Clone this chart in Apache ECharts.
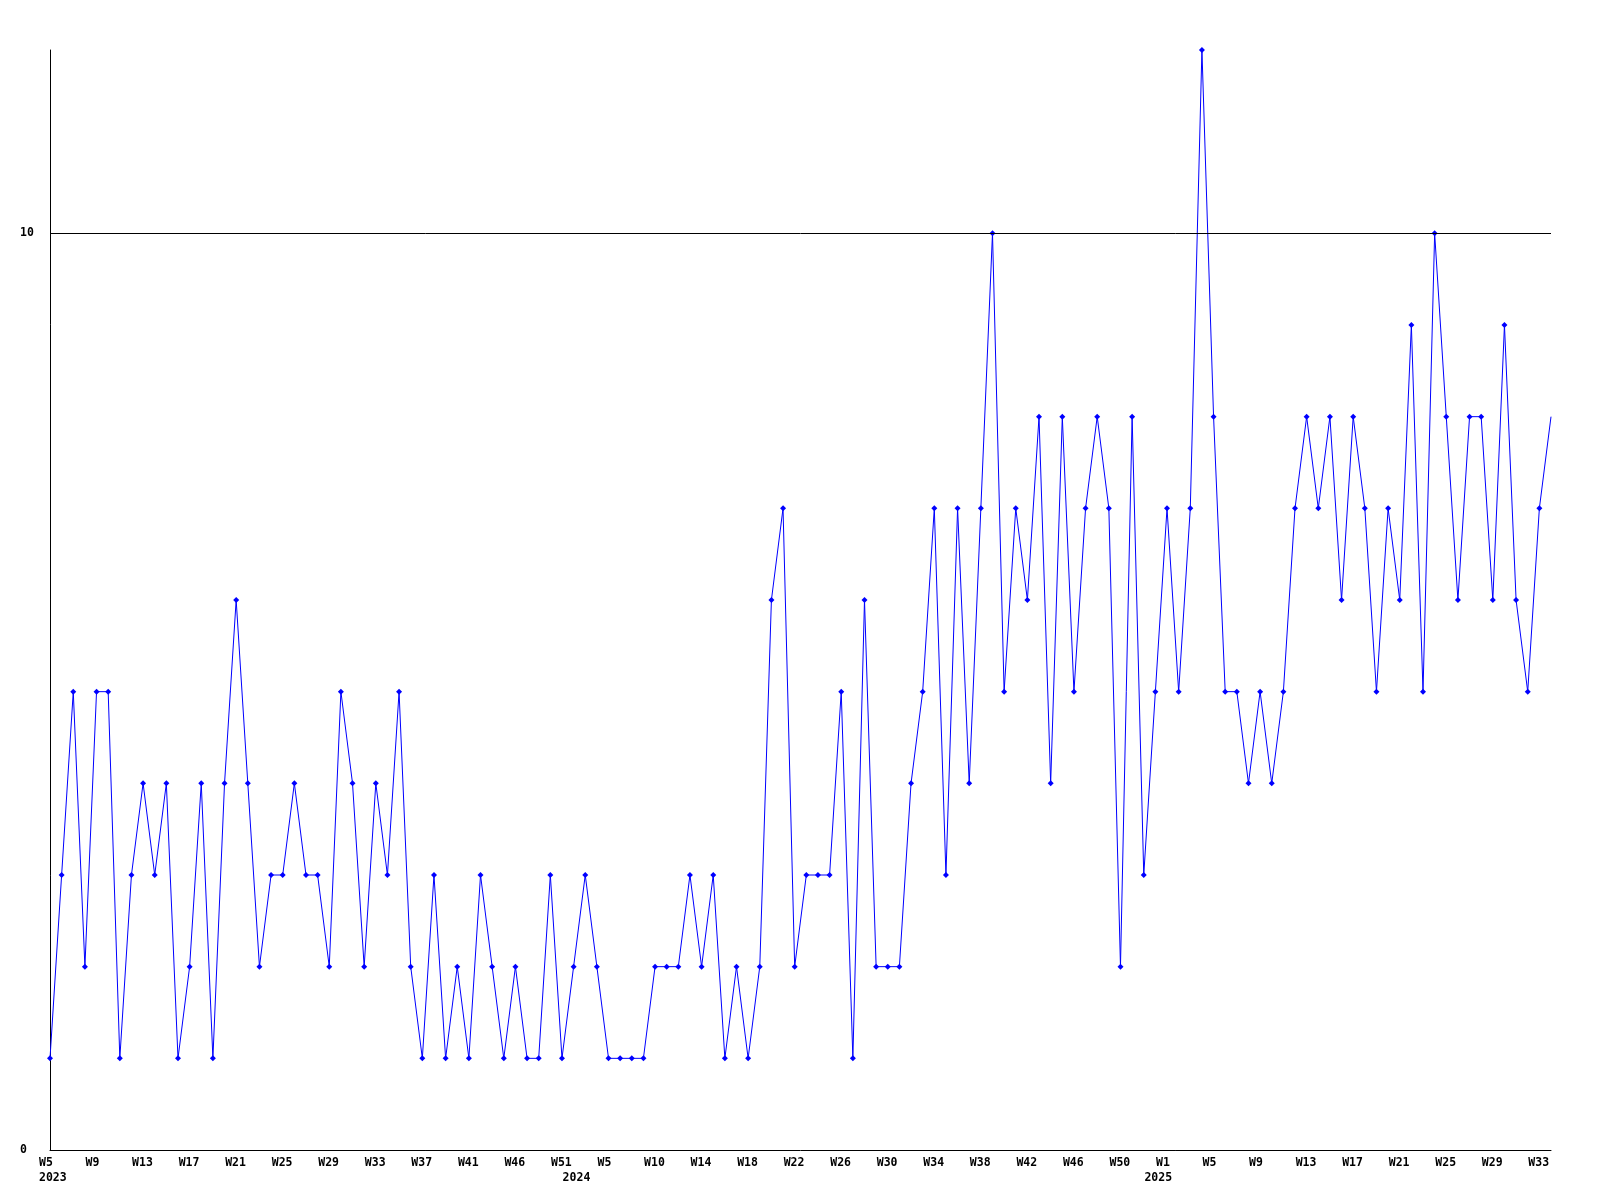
<!DOCTYPE html>
<html>
<head>
<meta charset="utf-8">
<style>
  html, body { margin: 0; padding: 0; background: #ffffff; }
  #chart { width: 1600px; height: 1200px; }
</style>
<script src="https://cdn.jsdelivr.net/npm/echarts@6/dist/echarts.min.js"></script>
</head>
<body>
<div id="chart"></div>
<script>
// Week labels for each plotted point (weeks without data are absent)
const weeks2023 = ['W5','W6','W7','W8','W9','W10','W11','W12','W13','W14','W15','W16','W17','W18','W19','W20','W21','W22','W23','W24','W25','W26','W27','W28','W29','W30','W31','W32','W33','W34','W35','W36','W37','W38','W39','W40','W41','W42','W43','W45','W46','W47','W48','W50','W51'];
const weeks2024 = ['W1','W2','W4','W5','W6','W7','W8','W10','W11','W12','W13','W14','W15','W16','W17','W18','W19','W20','W21','W22','W23','W24','W25','W26','W27','W28','W29','W30','W31','W32','W33','W34','W35','W36','W37','W38','W39','W40','W41','W42','W43','W44','W45','W46','W47','W48','W49','W50','W51','W52'];
const weeks2025 = ['W0','W1','W2','W3','W4','W5','W6','W7','W8','W9','W10','W11','W12','W13','W14','W15','W16','W17','W18','W19','W20','W21','W22','W23','W24','W25','W26','W27','W28','W29','W30','W31','W32','W33','W34'];
const years = ['2023', '2024', '2025'];

// Weekly counts
const counts = [
  1,3,5,2,5,5,1,3,4,3,
  4,1,2,4,1,4,6,4,2,3,
  3,4,3,3,2,5,4,2,4,3,
  5,2,1,3,1,2,1,3,2,1,
  2,1,1,3,1,2,3,2,1,1,
  1,1,2,2,2,3,2,3,1,2,
  1,2,6,7,2,3,3,3,5,1,
  6,2,2,2,4,5,7,3,7,4,
  7,10,5,7,6,8,4,8,5,7,
  8,7,2,8,3,5,7,5,7,12,
  8,5,5,4,5,4,5,7,8,7,
  8,6,8,7,5,7,6,9,5,10,
  8,6,8,8,6,9,6,5,7,8
];

const referenceLevel = 10;
const yTickLabels = [0, 10];

// Build categories and the index where each year starts
const categories = [].concat(weeks2023, weeks2024, weeks2025);
const yearStart = {};
yearStart[0] = years[0];
yearStart[weeks2023.length] = years[1];
yearStart[weeks2023.length + weeks2024.length] = years[2];

const FONT = '"DejaVu Sans Mono", "Liberation Mono", monospace';

const chart = echarts.init(document.getElementById('chart'), null, { renderer: 'canvas' });
chart.setOption({
  animation: false,
  backgroundColor: '#ffffff',
  grid: { left: 50, right: 49, top: 50, bottom: 50, containLabel: false },
  xAxis: {
    type: 'category',
    data: categories,
    boundaryGap: false,
    axisLine: { show: true, lineStyle: { color: '#000', width: 1 } },
    axisTick: { show: false },
    splitLine: { show: false },
    axisLabel: {
      interval: function (idx) { return idx % 4 === 0 || yearStart[idx] !== undefined; },
      margin: 6,
      formatter: function (value, idx) {
        const w = (idx % 4 === 0) ? '{w|' + value + '}' : '{w| }';
        const y = yearStart[idx] !== undefined ? '\n{w|' + yearStart[idx] + '}' : '';
        return w + y;
      },
      rich: {
        w: {
          width: 22,
          align: 'left',
          fontFamily: FONT,
          fontWeight: 'bold',
          fontSize: 11.5,
          lineHeight: 15,
          color: '#000'
        }
      }
    }
  },
  yAxis: {
    type: 'value',
    min: 0,
    max: 12,
    interval: 10,
    axisLine: { show: true, lineStyle: { color: '#000', width: 1 } },
    axisTick: { show: false },
    splitLine: { show: false },
    axisLabel: {
      align: 'left',
      margin: 30,
      fontFamily: FONT,
      fontWeight: 'bold',
      fontSize: 11.5,
      color: '#000',
      formatter: function (v) { return yTickLabels.indexOf(v) >= 0 ? String(v) : ''; }
    }
  },
  series: [{
    type: 'line',
    data: counts,
    color: '#0000ff',
    lineStyle: { color: '#0000ff', width: 1 },
    itemStyle: { color: '#0000ff' },
    symbol: 'diamond',
    symbolSize: function (v, p) { return p.dataIndex === counts.length - 1 ? 0 : 6; },
    showAllSymbol: true,
    clip: false,
    markLine: {
      silent: true,
      symbol: ['none', 'none'],
      label: { show: false },
      lineStyle: { color: '#000', width: 1, type: 'solid' },
      data: [{ yAxis: referenceLevel }]
    }
  }]
});
</script>
</body>
</html>
